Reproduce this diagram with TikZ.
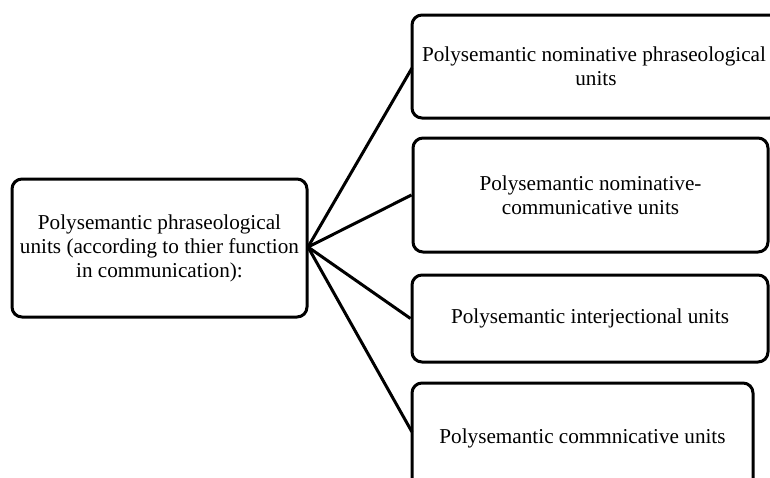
\documentclass[tikz,border=0pt]{standalone}
\usepackage{fontspec}
\setmainfont{Liberation Serif}
\begin{document}
\begin{tikzpicture}[x=1pt,y=-1pt,
  box/.style={draw=black,line width=3pt,rounded corners=10pt,fill=white,
    align=center,inner sep=0pt,font=\fontsize{21.2}{24}\selectfont},
  link/.style={draw=black,line width=3pt}]
\useasboundingbox (0,0) rectangle (770,477);
\clip (0,0) rectangle (770,477);
\node[box,minimum width=295pt,minimum height=138pt] (root) at (159.5,248)
  {Polysemantic phraseological\\units (according to thier function\\in communication):};
\node[box,minimum width=368pt,minimum height=103pt] (b1) at (596,66.5)
  {\hspace*{-4pt}Polysemantic nominative phraseological\\units};
\node[box,minimum width=355pt,minimum height=114pt] (b2) at (590.5,195)
  {Polysemantic nominative-\\communicative units};
\node[box,minimum width=356pt,minimum height=87pt] (b3) at (590,318.5)
  {Polysemantic interjectional units};
\node[box,minimum width=341pt,minimum height=110pt] (b4) at (582.5,438)
  {Polysemantic commnicative units};
\coordinate (hub) at (308,247);
\coordinate (e1) at (412,68);
\coordinate (e4) at (412,432);
\draw[link] (hub) -- (e1);
\draw[link] (hub) -- (b2.west);
\draw[link] (hub) -- (b3.west);
\draw[link] (hub) -- (e4);
\end{tikzpicture}
\end{document}
